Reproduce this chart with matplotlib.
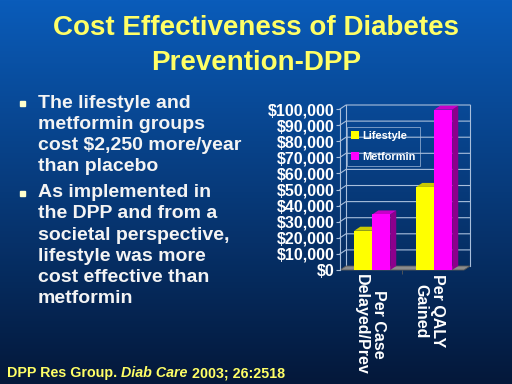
import numpy as np
import matplotlib
matplotlib.use("Agg")
import matplotlib.pyplot as plt
from matplotlib.patches import Polygon, Patch
from matplotlib.ticker import FuncFormatter

plt.rcParams['font.family'] = ['Liberation Sans', 'DejaVu Sans']
plt.rcParams['font.weight'] = 'bold'

# data
categories = ['Per Case\nDelayed/Prev', 'Per QALY\nGained']
series_names = ['Lifestyle', 'Metformin']
lifestyle = [24400, 51600]
metformin = [34500, 99600]
yticks = list(range(0, 100001, 10000))

title_lines = ['Cost Effectiveness of Diabetes', 'Prevention-DPP']
bullets = [
    ['The lifestyle and', 'metformin groups', 'cost $2,250 more/year', 'than placebo'],
    ['As implemented in', 'the DPP and from a', 'societal perspective,',
     'lifestyle was more', 'cost effective than', 'metformin'],
]

W, H = 512, 384
fig = plt.figure(figsize=(W / 100, H / 100), dpi=100)

# background gradient
bg = fig.add_axes([0, 0, 1, 1], zorder=-10)
top = np.array([10, 92, 186]) / 255
bot = np.array([4, 24, 58]) / 255
t = np.linspace(0, 1, 256)[:, None]
grad = top[None, :] * (1 - t) + bot[None, :] * t
bg.imshow(grad[:, None, :], aspect='auto', extent=[0, 1, 0, 1])
bg.set_axis_off()

yellow_txt = '#ffff66'
for line, yy in zip(title_lines, [28, 63]):
    fig.text(0.5, 1 - yy / H, line, ha='center', va='center',
             fontsize=20, color=yellow_txt, fontweight='bold')

# bullets
y = 103
for block in bullets:
    fig.patches.append(plt.Rectangle((20 / W, 1 - (y + 3) / H), 5 / W, 5 / H,
                                     transform=fig.transFigure, color='#ffffcc', figure=fig))
    for line in block:
        fig.text(38 / W, 1 - y / H, line, ha='left', va='center', fontsize=14,
                 color='#f4f4f4', fontweight='bold')
        y += 21.2
    y += 5

# footer (three pieces, middle one italic)
fig.canvas.draw()
r = fig.canvas.get_renderer()
fx = 7
for piece, style in [('DPP Res Group. ', 'normal'), ('Diab Care', 'italic'), (' 2003; 26:2518', 'normal')]:
    tt = fig.text(fx / W, 1 - 373 / H, piece, ha='left', va='center', fontsize=10.3,
                  color=yellow_txt, fontweight='bold', fontstyle=style)
    fx = tt.get_window_extent(r).x1

# chart
ax = fig.add_axes([340 / W, 1 - 270 / H, 124 / W, 161 / H])
ax.set_facecolor('none')
ax.set_xlim(0, 2)
ax.set_ylim(0, 100000)
dx = 0.097
dy = 2480
wall = '#a9bfdc'

floor = Polygon([(0, 0), (2, 0), (2 + dx, dy), (dx, dy)], closed=True,
                facecolor='#8c8c8c', edgecolor='#5a5a5a', lw=0.6, clip_on=False, zorder=1)
ax.add_patch(floor)
for v in yticks[1:]:
    ax.plot([0, dx, 2 + dx], [v, v + dy, v + dy], color=wall, lw=0.8, clip_on=False, zorder=0.5)
ax.plot([dx, dx], [dy, 100000 + dy], color=wall, lw=0.8, clip_on=False, zorder=0.5)
ax.plot([2 + dx, 2 + dx], [dy, 100000 + dy], color=wall, lw=0.8, clip_on=False, zorder=0.5)

colors = {
    'Lifestyle': ('#ffff00', '#c9c900', '#9a9a00'),
    'Metformin': ('#ff00ff', '#c800c8', '#8c008c'),
}
bw = 0.29
offsets = [-0.27, 0.02]
z = 2
for i in range(len(categories)):
    for name, vals, off in zip(series_names, [lifestyle, metformin], offsets):
        front, topc, side = colors[name]
        x0 = i + 0.5 + off
        h = vals[i]
        ax.add_patch(Polygon([(x0 + bw, 0), (x0 + bw + dx, dy), (x0 + bw + dx, h + dy), (x0 + bw, h)],
                             closed=True, facecolor=side, edgecolor='none', clip_on=False, zorder=z))
        ax.add_patch(Polygon([(x0, h), (x0 + bw, h), (x0 + bw + dx, h + dy), (x0 + dx, h + dy)],
                             closed=True, facecolor=topc, edgecolor='none', clip_on=False, zorder=z))
        ax.bar(x0, h, width=bw, align='edge', color=front, edgecolor='none', zorder=z + 0.5, clip_on=False)
        z += 1

for s in ['top', 'right', 'bottom']:
    ax.spines[s].set_visible(False)
ax.spines['left'].set_color(wall)
ax.spines['left'].set_linewidth(0.8)

ax.set_yticks(yticks)
ax.yaxis.set_major_formatter(FuncFormatter(lambda v, p: f'${v:,.0f}'))
ax.tick_params(axis='y', colors=wall, labelcolor='white', labelsize=11.5, length=3, pad=1)
for lab in ax.get_yticklabels():
    lab.set_fontweight('bold')

ax.set_xticks([0.48, 1.44])
ax.set_xticklabels(categories, rotation=270, fontsize=11.5, color='white', fontweight='bold',
                   va='top', ha='center', multialignment='center')
ax.set_xticks([1], minor=True)
ax.tick_params(axis='x', which='major', length=0, pad=3)
ax.tick_params(axis='x', which='minor', length=3, color='#5a5a5a')

handles = [Patch(facecolor=colors[n][0], edgecolor='none') for n in series_names]
leg = ax.legend(handles, series_names, loc='upper left', bbox_to_anchor=(0.056, 0.89),
                borderaxespad=0, fontsize=7.9, frameon=True, fancybox=False,
                handlelength=0.7, handleheight=0.7, handletextpad=0.25,
                labelspacing=1.0, borderpad=0.4)
leg.get_frame().set_facecolor('none')
leg.get_frame().set_edgecolor(wall)
leg.get_frame().set_linewidth(0.6)
for txt in leg.get_texts():
    txt.set_color('white')
    txt.set_fontweight('bold')
leg.set_zorder(20)

fig.savefig('out.png', dpi=100)
